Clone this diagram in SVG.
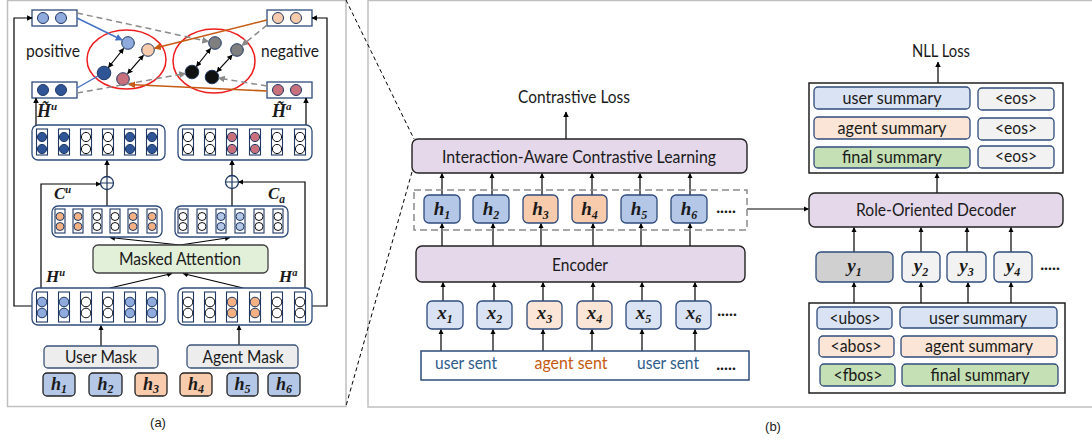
<svg xmlns="http://www.w3.org/2000/svg" width="1092" height="443" viewBox="0 0 1092 443">
<style>
.lbl{font-family:Lato,"Liberation Sans",sans-serif;font-size:16.5px;fill:#1a1a1a}
.math{font-family:"Liberation Serif",serif;font-weight:bold;font-style:italic;fill:#1a1a1a}
.cap{font-family:"Liberation Sans",Arial,sans-serif;font-size:13px;fill:#1a1a1a}
.panel{fill:#fff;stroke:#c0c0c0;stroke-width:1.5}
.grp{fill:#fff;stroke:#2f4b7c;stroke-width:1.3}
.col{fill:#fff;stroke:#1f3864;stroke-width:1.1}
.cw{fill:#fff;stroke:#111;stroke-width:1}
.cdb{fill:#2f5597;stroke:#1f3864;stroke-width:1}
.clb{fill:#8faadc;stroke:#1f3864;stroke-width:1}
.cvl{fill:#b4c7e7;stroke:#1f3864;stroke-width:1}
.cpe{fill:#f4b183;stroke:#1f3864;stroke-width:1}
.cpl{fill:#f8cbad;stroke:#1f3864;stroke-width:1}
.cpk{fill:#c8707c;stroke:#1f3864;stroke-width:1}
.cgy{fill:#7f7f7f;stroke:#1f3864;stroke-width:1}
.cbk{fill:#111;stroke:#1f3864;stroke-width:1}
.ln{stroke:#000;stroke-width:1.2;fill:none}
.arr{stroke:#000;stroke-width:1.2;fill:none;marker-end:url(#ah)}
.hb{fill:#b4c7e7;stroke:#2f4b7c;stroke-width:1.3}
.ho{fill:#f8cbad;stroke:#2f4b7c;stroke-width:1.3}
.ha{fill:#b4c7e7;stroke:#222;stroke-width:1.3}
.hao{fill:#f8cbad;stroke:#222;stroke-width:1.3}
.xb{fill:#dae3f3;stroke:#2f4b7c;stroke-width:1.3}
.xo{fill:#fbe5d6;stroke:#2f4b7c;stroke-width:1.3}
.purp{fill:#e4d8ea;stroke:#222;stroke-width:1.4}
.gr{fill:#f2f2f2;stroke:#2f4b7c;stroke-width:1.3}
.gd{fill:#d0d0d0;stroke:#2f4b7c;stroke-width:1.3}
.gn{fill:#c5e0b4;stroke:#2f4b7c;stroke-width:1.3}
.mask{fill:#ededed;stroke:#3b5378;stroke-width:1.3}
.dash{stroke:#8a8a8a;stroke-width:1.5;stroke-dasharray:6 4;fill:none;marker-end:url(#ahg)}
.ell{fill:none;stroke:#ee1c1c;stroke-width:1.5}
.dbl{stroke:#000;stroke-width:1.2;fill:none;marker-start:url(#ah);marker-end:url(#ah)}
</style>
<defs>
<marker id="ah" viewBox="0 0 10 10" refX="9" refY="5" markerWidth="5.5" markerHeight="5.5" orient="auto-start-reverse" markerUnits="userSpaceOnUse"><path d="M0,0 L10,5 L0,10 z" fill="#000"/></marker>
<marker id="ahg" viewBox="0 0 10 10" refX="9" refY="5" markerWidth="7" markerHeight="7" orient="auto" markerUnits="userSpaceOnUse"><path d="M0,0 L10,5 L0,10 z" fill="#8a8a8a"/></marker>
<marker id="ahb" viewBox="0 0 10 10" refX="9" refY="5" markerWidth="7" markerHeight="7" orient="auto" markerUnits="userSpaceOnUse"><path d="M0,0 L10,5 L0,10 z" fill="#4472c4"/></marker>
<marker id="aho" viewBox="0 0 10 10" refX="9" refY="5" markerWidth="7" markerHeight="7" orient="auto" markerUnits="userSpaceOnUse"><path d="M0,0 L10,5 L0,10 z" fill="#c55a11"/></marker>
</defs>

<rect width="1092" height="443" fill="#fff"/>
<!-- panels -->
<rect class="panel" x="7.5" y="0.5" width="338.5" height="406"/>
<rect class="panel" x="368" y="0.5" width="730" height="406.5"/>
<line x1="346" y1="0" x2="414" y2="139" stroke="#000" stroke-width="1" stroke-dasharray="4 3"/>
<line x1="412" y1="172" x2="346" y2="406" stroke="#000" stroke-width="1" stroke-dasharray="4 3"/>
<text class="cap" x="158" y="427" text-anchor="middle">(a)</text>
<text class="cap" x="773" y="431" text-anchor="middle">(b)</text>

<!-- ========== PANEL A ========== -->
<g id="vec-top-user">
<rect x="32" y="10" width="45" height="16" fill="#fff" stroke="#2f4b7c" stroke-width="1.3"/>
<circle class="clb" cx="43" cy="18" r="5.5"/><circle class="clb" cx="61" cy="18" r="5.5"/>
</g>
<g id="vec-top-agent">
<rect x="267" y="10" width="45" height="16" fill="#fff" stroke="#2f4b7c" stroke-width="1.3"/>
<circle class="cpl" cx="278" cy="18" r="5.5"/><circle class="cpl" cx="296" cy="18" r="5.5"/>
</g>
<g id="vec-bot-user">
<rect x="32" y="82" width="45" height="16" fill="#fff" stroke="#2f4b7c" stroke-width="1.3"/>
<circle class="cdb" cx="43" cy="90" r="5.5"/><circle class="cdb" cx="61" cy="90" r="5.5"/>
</g>
<g id="vec-bot-agent">
<rect x="267" y="82" width="45" height="16" fill="#fff" stroke="#2f4b7c" stroke-width="1.3"/>
<circle class="cpk" cx="278" cy="90" r="5.5"/><circle class="cpk" cx="296" cy="90" r="5.5"/>
</g>
<text class="lbl" x="53" y="57" text-anchor="middle" textLength="54" lengthAdjust="spacingAndGlyphs">positive</text>
<text class="lbl" x="290" y="57" text-anchor="middle" textLength="58" lengthAdjust="spacingAndGlyphs">negative</text>

<g id="contrast-pos">
<ellipse class="ell" cx="126.5" cy="59.5" rx="39.5" ry="29.5"/>
<circle class="clb" cx="128" cy="43" r="6.3"/>
<circle class="cpl" cx="148" cy="50" r="6.3"/>
<circle class="cdb" cx="104" cy="73" r="6.8"/>
<circle class="cpk" cx="123" cy="79" r="6.3"/>
</g>
<g id="contrast-neg">
<ellipse class="ell" cx="214" cy="61" rx="41" ry="32"/>
<circle class="cgy" cx="215" cy="43" r="6.3"/>
<circle class="cgy" cx="237" cy="50" r="6.3"/>
<circle class="cbk" cx="192" cy="72" r="6.8"/>
<circle class="cbk" cx="212" cy="77" r="6.8"/>
</g>

<g id="connectors-a">
<line x1="77" y1="18" x2="122" y2="40" stroke="#4472c4" stroke-width="1.4" marker-end="url(#ahb)"/>
<line class="dash" x1="77" y1="13" x2="208.5" y2="41.5"/>
<line x1="267" y1="20" x2="154.5" y2="48.3" stroke="#c55a11" stroke-width="1.6" marker-end="url(#aho)"/>
<line class="dash" x1="267" y1="25" x2="242" y2="45.5"/>
<line x1="77" y1="88" x2="98" y2="76" stroke="#4472c4" stroke-width="1.4"/>
<line class="dash" x1="77" y1="93" x2="185.5" y2="73.5"/>
<line x1="267" y1="91" x2="129" y2="84.5" stroke="#c55a11" stroke-width="1.6" marker-end="url(#aho)"/>
<line class="dash" x1="267" y1="86" x2="218.5" y2="78"/>
<line class="dbl" x1="108.4" y1="67.5" x2="123.6" y2="48.5"/>
<line class="dbl" x1="127.6" y1="73.7" x2="143.4" y2="55.3"/>
<line class="dbl" x1="196.4" y1="66.5" x2="210.6" y2="48.5"/>
<line class="dbl" x1="216.8" y1="71.9" x2="232.2" y2="55.1"/>
<!-- loops -->
<path class="arr" d="M32,306 H14 V18 H32"/>
<path class="arr" d="M312,306 H327 V18 H312"/>
<line class="arr" x1="36" y1="125" x2="36" y2="98"/>
<line class="arr" x1="306" y1="125" x2="306" y2="98"/>
<!-- residual to plus -->
<path class="arr" d="M41,288 V184 H100.5"/>
<path class="arr" d="M305,288 V182 H238.5"/>
<line class="arr" x1="107" y1="176.5" x2="107" y2="160"/>
<line class="arr" x1="232" y1="175.5" x2="232" y2="160"/>
<line class="ln" x1="107" y1="206" x2="107" y2="189.5"/>
<line class="ln" x1="232" y1="206" x2="232" y2="188.5"/>
<line class="arr" x1="180" y1="245" x2="110" y2="237.5"/>
<line class="arr" x1="180" y1="245" x2="230" y2="237.5"/>
<line class="arr" x1="110" y1="288" x2="172" y2="273.5"/>
<line class="arr" x1="243" y1="288" x2="183" y2="273.5"/>
<line class="arr" x1="101" y1="346" x2="101" y2="325.5"/>
<line class="arr" x1="239" y1="345" x2="239" y2="325.5"/>
</g>

<!-- labels -->
<text class="math" x="37" y="117" font-size="18">H̃<tspan font-size="11" dy="-7">u</tspan></text>
<text class="math" x="272" y="117" font-size="18">H̃<tspan font-size="11" dy="-7">a</tspan></text>
<text class="math" x="54" y="199" font-size="17">C<tspan font-size="10.5" dy="-6">u</tspan></text>
<text class="math" x="268" y="199" font-size="17">C<tspan font-size="11.5" dy="4">a</tspan></text>
<text class="math" x="46" y="282" font-size="17">H<tspan font-size="10.5" dy="-6">u</tspan></text>
<text class="math" x="279" y="282" font-size="17">H<tspan font-size="10.5" dy="-6">a</tspan></text>

<g id="plus-u">
<circle cx="107" cy="183" r="6.5" fill="#fff" stroke="#1f3864" stroke-width="1.3"/>
<path d="M100.5,183 H113.5 M107,176.5 V189.5" stroke="#1f3864" stroke-width="1.2"/>
</g>
<g id="plus-a">
<circle cx="232" cy="182" r="6.5" fill="#fff" stroke="#1f3864" stroke-width="1.3"/>
<path d="M225.5,182 H238.5 M232,175.5 V188.5" stroke="#1f3864" stroke-width="1.2"/>
</g>

<g id="Htilde-u">
<rect class="grp" x="32" y="125" width="133" height="35" rx="6"/>
<rect class="col" x="36.5" y="129" width="11" height="26"/><circle class="cdb" cx="42" cy="137" r="4.6"/><circle class="cdb" cx="42" cy="149" r="4.6"/>
<rect class="col" x="58.5" y="129" width="11" height="26"/><circle class="cdb" cx="64" cy="137" r="4.6"/><circle class="cdb" cx="64" cy="149" r="4.6"/>
<rect class="col" x="80.5" y="129" width="11" height="26"/><circle class="cw" cx="86" cy="137" r="4.6"/><circle class="cw" cx="86" cy="149" r="4.6"/>
<rect class="col" x="102.5" y="129" width="11" height="26"/><circle class="cw" cx="108" cy="137" r="4.6"/><circle class="cw" cx="108" cy="149" r="4.6"/>
<rect class="col" x="124.5" y="129" width="11" height="26"/><circle class="cdb" cx="130" cy="137" r="4.6"/><circle class="cdb" cx="130" cy="149" r="4.6"/>
<rect class="col" x="146.5" y="129" width="11" height="26"/><circle class="cdb" cx="152" cy="137" r="4.6"/><circle class="cdb" cx="152" cy="149" r="4.6"/>
</g>
<g id="Htilde-a">
<rect class="grp" x="178" y="125" width="134" height="35" rx="6"/>
<rect class="col" x="182.5" y="129" width="11" height="26"/><circle class="cw" cx="188" cy="137" r="4.6"/><circle class="cw" cx="188" cy="149" r="4.6"/>
<rect class="col" x="204.5" y="129" width="11" height="26"/><circle class="cw" cx="210" cy="137" r="4.6"/><circle class="cw" cx="210" cy="149" r="4.6"/>
<rect class="col" x="226.5" y="129" width="11" height="26"/><circle class="cpk" cx="232" cy="137" r="4.6"/><circle class="cpk" cx="232" cy="149" r="4.6"/>
<rect class="col" x="249.5" y="129" width="11" height="26"/><circle class="cpk" cx="255" cy="137" r="4.6"/><circle class="cpk" cx="255" cy="149" r="4.6"/>
<rect class="col" x="271.5" y="129" width="11" height="26"/><circle class="cw" cx="277" cy="137" r="4.6"/><circle class="cw" cx="277" cy="149" r="4.6"/>
<rect class="col" x="294.5" y="129" width="11" height="26"/><circle class="cw" cx="300" cy="137" r="4.6"/><circle class="cw" cx="300" cy="149" r="4.6"/>
</g>

<g id="C-u">
<rect class="grp" x="52" y="206" width="110" height="31" rx="6"/>
<rect class="col" x="55" y="209" width="10" height="24"/><circle class="cpe" cx="60" cy="216.5" r="4"/><circle class="cpe" cx="60" cy="226.5" r="4"/>
<rect class="col" x="73" y="209" width="10" height="24"/><circle class="cpe" cx="78" cy="216.5" r="4"/><circle class="cpe" cx="78" cy="226.5" r="4"/>
<rect class="col" x="92" y="209" width="10" height="24"/><circle class="cw" cx="97" cy="216.5" r="4"/><circle class="cw" cx="97" cy="226.5" r="4"/>
<rect class="col" x="110" y="209" width="10" height="24"/><circle class="cw" cx="115" cy="216.5" r="4"/><circle class="cw" cx="115" cy="226.5" r="4"/>
<rect class="col" x="128" y="209" width="10" height="24"/><circle class="cpe" cx="133" cy="216.5" r="4"/><circle class="cpe" cx="133" cy="226.5" r="4"/>
<rect class="col" x="147" y="209" width="10" height="24"/><circle class="cpe" cx="152" cy="216.5" r="4"/><circle class="cpe" cx="152" cy="226.5" r="4"/>
</g>
<g id="C-a">
<rect class="grp" x="175" y="206" width="113" height="31" rx="6"/>
<rect class="col" x="178" y="209" width="10" height="24"/><circle class="cw" cx="183" cy="216.5" r="4"/><circle class="cw" cx="183" cy="226.5" r="4"/>
<rect class="col" x="197" y="209" width="10" height="24"/><circle class="cw" cx="202" cy="216.5" r="4"/><circle class="cw" cx="202" cy="226.5" r="4"/>
<rect class="col" x="216" y="209" width="10" height="24"/><circle class="cvl" cx="221" cy="216.5" r="4"/><circle class="cvl" cx="221" cy="226.5" r="4"/>
<rect class="col" x="235" y="209" width="10" height="24"/><circle class="cvl" cx="240" cy="216.5" r="4"/><circle class="cvl" cx="240" cy="226.5" r="4"/>
<rect class="col" x="254" y="209" width="10" height="24"/><circle class="cw" cx="259" cy="216.5" r="4"/><circle class="cw" cx="259" cy="226.5" r="4"/>
<rect class="col" x="273" y="209" width="10" height="24"/><circle class="cw" cx="278" cy="216.5" r="4"/><circle class="cw" cx="278" cy="226.5" r="4"/>
</g>

<g id="masked-attention">
<rect x="93" y="245" width="175" height="28" rx="5" fill="#e2f0d9" stroke="#404040" stroke-width="1.3"/>
<text class="lbl" x="180" y="264.5" text-anchor="middle" textLength="122" lengthAdjust="spacingAndGlyphs">Masked Attention</text>
</g>

<g id="H-u">
<rect class="grp" x="32" y="288" width="133" height="37" rx="6"/>
<rect class="col" x="36.5" y="292" width="11" height="30"/><circle class="clb" cx="42" cy="302" r="4.8"/><circle class="clb" cx="42" cy="313" r="4.8"/>
<rect class="col" x="58.5" y="292" width="11" height="30"/><circle class="clb" cx="64" cy="302" r="4.8"/><circle class="clb" cx="64" cy="313" r="4.8"/>
<rect class="col" x="80.5" y="292" width="11" height="30"/><circle class="cw" cx="86" cy="302" r="4.8"/><circle class="cw" cx="86" cy="313" r="4.8"/>
<rect class="col" x="102.5" y="292" width="11" height="30"/><circle class="cw" cx="108" cy="302" r="4.8"/><circle class="cw" cx="108" cy="313" r="4.8"/>
<rect class="col" x="124.5" y="292" width="11" height="30"/><circle class="clb" cx="130" cy="302" r="4.8"/><circle class="clb" cx="130" cy="313" r="4.8"/>
<rect class="col" x="146.5" y="292" width="11" height="30"/><circle class="clb" cx="152" cy="302" r="4.8"/><circle class="clb" cx="152" cy="313" r="4.8"/>
</g>
<g id="H-a">
<rect class="grp" x="178" y="288" width="134" height="37" rx="6"/>
<rect class="col" x="182.5" y="292" width="11" height="30"/><circle class="cw" cx="188" cy="302" r="4.8"/><circle class="cw" cx="188" cy="313" r="4.8"/>
<rect class="col" x="204.5" y="292" width="11" height="30"/><circle class="cw" cx="210" cy="302" r="4.8"/><circle class="cw" cx="210" cy="313" r="4.8"/>
<rect class="col" x="226.5" y="292" width="11" height="30"/><circle class="cpe" cx="232" cy="302" r="4.8"/><circle class="cpe" cx="232" cy="313" r="4.8"/>
<rect class="col" x="249.5" y="292" width="11" height="30"/><circle class="cpe" cx="255" cy="302" r="4.8"/><circle class="cpe" cx="255" cy="313" r="4.8"/>
<rect class="col" x="271.5" y="292" width="11" height="30"/><circle class="cw" cx="277" cy="302" r="4.8"/><circle class="cw" cx="277" cy="313" r="4.8"/>
<rect class="col" x="294.5" y="292" width="11" height="30"/><circle class="cw" cx="300" cy="302" r="4.8"/><circle class="cw" cx="300" cy="313" r="4.8"/>
</g>

<g id="user-mask">
<rect class="mask" x="44" y="346" width="114" height="22" rx="4"/>
<text class="lbl" x="101" y="362.5" text-anchor="middle" textLength="72" lengthAdjust="spacingAndGlyphs">User Mask</text>
</g>
<g id="agent-mask">
<rect class="mask" x="187" y="345" width="111" height="23" rx="4"/>
<text class="lbl" x="243" y="362.5" text-anchor="middle" textLength="81" lengthAdjust="spacingAndGlyphs">Agent Mask</text>
</g>

<g id="a-h1"><rect class="ha" x="43" y="373" width="32" height="23" rx="4"/><text class="math" x="59" y="390" font-size="18" text-anchor="middle">h<tspan font-size="12" dy="3">1</tspan></text></g>
<g id="a-h2"><rect class="ha" x="89" y="373" width="33" height="23" rx="4"/><text class="math" x="105.5" y="390" font-size="18" text-anchor="middle">h<tspan font-size="12" dy="3">2</tspan></text></g>
<g id="a-h3"><rect class="hao" x="135" y="373" width="32" height="23" rx="4"/><text class="math" x="151" y="390" font-size="18" text-anchor="middle">h<tspan font-size="12" dy="3">3</tspan></text></g>
<g id="a-h4"><rect class="hao" x="180" y="373" width="32" height="23" rx="4"/><text class="math" x="196" y="390" font-size="18" text-anchor="middle">h<tspan font-size="12" dy="3">4</tspan></text></g>
<g id="a-h5"><rect class="ha" x="227" y="373" width="31" height="23" rx="4"/><text class="math" x="242.5" y="390" font-size="18" text-anchor="middle">h<tspan font-size="12" dy="3">5</tspan></text></g>
<g id="a-h6"><rect class="ha" x="268" y="373" width="32" height="23" rx="4"/><text class="math" x="284" y="390" font-size="18" text-anchor="middle">h<tspan font-size="12" dy="3">6</tspan></text></g>

<!-- ========== PANEL B ========== -->
<g id="connectors-b">
<line class="arr" x1="566" y1="139" x2="566" y2="112"/>
<line class="arr" x1="442" y1="195" x2="442" y2="173.5"/>
<line class="arr" x1="492" y1="195" x2="492" y2="173.5"/>
<line class="arr" x1="542" y1="195" x2="542" y2="173.5"/>
<line class="arr" x1="592" y1="195" x2="592" y2="173.5"/>
<line class="arr" x1="640" y1="195" x2="640" y2="173.5"/>
<line class="arr" x1="690" y1="195" x2="690" y2="173.5"/>
<line class="arr" x1="442" y1="246" x2="442" y2="223.5"/>
<line class="arr" x1="493" y1="246" x2="493" y2="223.5"/>
<line class="arr" x1="541" y1="246" x2="541" y2="223.5"/>
<line class="arr" x1="593" y1="246" x2="593" y2="223.5"/>
<line class="arr" x1="641" y1="246" x2="641" y2="223.5"/>
<line class="arr" x1="690" y1="246" x2="690" y2="223.5"/>
<line class="arr" x1="443" y1="301" x2="443" y2="282.5"/>
<line class="arr" x1="494" y1="301" x2="494" y2="282.5"/>
<line class="arr" x1="543" y1="301" x2="543" y2="282.5"/>
<line class="arr" x1="593" y1="301" x2="593" y2="282.5"/>
<line class="arr" x1="642" y1="301" x2="642" y2="282.5"/>
<line class="arr" x1="695" y1="301" x2="695" y2="282.5"/>
<line class="arr" x1="441" y1="351" x2="441" y2="329.5"/>
<line class="arr" x1="493" y1="351" x2="493" y2="329.5"/>
<line class="arr" x1="543" y1="351" x2="543" y2="329.5"/>
<line class="arr" x1="592" y1="351" x2="592" y2="329.5"/>
<line class="arr" x1="642" y1="351" x2="642" y2="329.5"/>
<line class="arr" x1="695" y1="351" x2="695" y2="329.5"/>
<line class="arr" x1="747" y1="209" x2="808.5" y2="209"/>
<line class="arr" x1="938" y1="83" x2="938" y2="62"/>
<line class="arr" x1="937" y1="193" x2="937" y2="173.5"/>
<line class="arr" x1="854" y1="252" x2="854" y2="227.5"/>
<line class="arr" x1="921" y1="252" x2="921" y2="227.5"/>
<line class="arr" x1="967" y1="252" x2="967" y2="227.5"/>
<line class="arr" x1="1011" y1="252" x2="1011" y2="227.5"/>
<line class="arr" x1="854" y1="303" x2="854" y2="282.5"/>
<line class="arr" x1="921" y1="303" x2="921" y2="282.5"/>
<line class="arr" x1="968" y1="303" x2="968" y2="282.5"/>
<line class="arr" x1="1011" y1="303" x2="1011" y2="282.5"/>
</g>

<text class="lbl" x="574" y="102.5" text-anchor="middle" textLength="112" lengthAdjust="spacingAndGlyphs">Contrastive Loss</text>
<g id="iacl">
<rect class="purp" x="412" y="139" width="335" height="34" rx="6"/>
<text class="lbl" x="579" y="162.5" text-anchor="middle" textLength="274" lengthAdjust="spacingAndGlyphs">Interaction-Aware Contrastive Learning</text>
</g>

<g id="hidden-group">
<rect x="414" y="190" width="333" height="40" fill="none" stroke="#8a8a8a" stroke-width="1.5" stroke-dasharray="7 4"/>
<text class="lbl" x="726" y="213" text-anchor="middle" font-weight="bold">.....</text>
</g>
<g id="b-h1"><rect class="hb" x="424" y="195" width="36" height="28" rx="5"/><text class="math" x="442" y="215" font-size="19" text-anchor="middle">h<tspan font-size="12" dy="4">1</tspan></text></g>
<g id="b-h2"><rect class="hb" x="473" y="195" width="36" height="28" rx="5"/><text class="math" x="491" y="215" font-size="19" text-anchor="middle">h<tspan font-size="12" dy="4">2</tspan></text></g>
<g id="b-h3"><rect class="ho" x="523" y="195" width="35" height="28" rx="5"/><text class="math" x="540.5" y="215" font-size="19" text-anchor="middle">h<tspan font-size="12" dy="4">3</tspan></text></g>
<g id="b-h4"><rect class="ho" x="572" y="195" width="35" height="28" rx="5"/><text class="math" x="589.5" y="215" font-size="19" text-anchor="middle">h<tspan font-size="12" dy="4">4</tspan></text></g>
<g id="b-h5"><rect class="hb" x="621" y="195" width="36" height="28" rx="5"/><text class="math" x="639" y="215" font-size="19" text-anchor="middle">h<tspan font-size="12" dy="4">5</tspan></text></g>
<g id="b-h6"><rect class="hb" x="671" y="195" width="36" height="28" rx="5"/><text class="math" x="689" y="215" font-size="19" text-anchor="middle">h<tspan font-size="12" dy="4">6</tspan></text></g>

<g id="encoder">
<rect class="purp" x="416" y="246" width="329" height="36" rx="6"/>
<text class="lbl" x="580" y="270.5" text-anchor="middle" textLength="56" lengthAdjust="spacingAndGlyphs">Encoder</text>
</g>

<g id="b-x1"><rect class="xb" x="427" y="301" width="36" height="28" rx="5"/><text class="math" x="445" y="319" font-size="19" text-anchor="middle">x<tspan font-size="12" dy="4">1</tspan></text></g>
<g id="b-x2"><rect class="xb" x="477" y="301" width="35" height="28" rx="5"/><text class="math" x="494.5" y="319" font-size="19" text-anchor="middle">x<tspan font-size="12" dy="4">2</tspan></text></g>
<g id="b-x3"><rect class="xo" x="527" y="301" width="35" height="28" rx="5"/><text class="math" x="544.5" y="319" font-size="19" text-anchor="middle">x<tspan font-size="12" dy="4">3</tspan></text></g>
<g id="b-x4"><rect class="xo" x="577" y="301" width="35" height="28" rx="5"/><text class="math" x="594.5" y="319" font-size="19" text-anchor="middle">x<tspan font-size="12" dy="4">4</tspan></text></g>
<g id="b-x5"><rect class="xb" x="626" y="301" width="35" height="28" rx="5"/><text class="math" x="643.5" y="319" font-size="19" text-anchor="middle">x<tspan font-size="12" dy="4">5</tspan></text></g>
<g id="b-x6"><rect class="xb" x="676" y="301" width="35" height="28" rx="5"/><text class="math" x="693.5" y="319" font-size="19" text-anchor="middle">x<tspan font-size="12" dy="4">6</tspan></text></g>
<text class="lbl" x="727" y="316" text-anchor="middle" font-weight="bold">.....</text>

<g id="input-sents">
<rect x="421" y="351" width="328" height="29" fill="#fff" stroke="#2f4b7c" stroke-width="1.5"/>
<text class="lbl" x="466" y="368.5" text-anchor="middle" style="fill:#2e5c8a" textLength="62" lengthAdjust="spacingAndGlyphs">user sent</text>
<text class="lbl" x="571" y="368.5" text-anchor="middle" style="fill:#c55a11" textLength="73" lengthAdjust="spacingAndGlyphs">agent sent</text>
<text class="lbl" x="668" y="368.5" text-anchor="middle" style="fill:#2e5c8a" textLength="62" lengthAdjust="spacingAndGlyphs">user sent</text>
<text class="lbl" x="726" y="370" text-anchor="middle" font-weight="bold">.....</text>
</g>

<text class="lbl" x="941" y="57" text-anchor="middle" textLength="58" lengthAdjust="spacingAndGlyphs">NLL Loss</text>
<g id="output-summaries">
<rect x="809" y="83" width="254" height="90" fill="#fff" stroke="#111" stroke-width="1.4"/>
<rect class="xb" x="814" y="87" width="156" height="22" rx="4"/>
<text class="lbl" x="892" y="104" text-anchor="middle" textLength="99" lengthAdjust="spacingAndGlyphs">user summary</text>
<rect class="gr" x="978" y="88" width="76" height="22" rx="4"/>
<text class="lbl" x="1016" y="104" text-anchor="middle" textLength="42" lengthAdjust="spacingAndGlyphs">&lt;eos&gt;</text>
<rect class="xo" x="814" y="117" width="156" height="22" rx="4"/>
<text class="lbl" x="892" y="134" text-anchor="middle" textLength="109" lengthAdjust="spacingAndGlyphs">agent summary</text>
<rect class="gr" x="978" y="118" width="76" height="22" rx="4"/>
<text class="lbl" x="1016" y="134" text-anchor="middle" textLength="42" lengthAdjust="spacingAndGlyphs">&lt;eos&gt;</text>
<rect class="gn" x="814" y="147" width="156" height="21" rx="4"/>
<text class="lbl" x="892" y="163" text-anchor="middle" textLength="100" lengthAdjust="spacingAndGlyphs">final summary</text>
<rect class="gr" x="978" y="146" width="76" height="22" rx="4"/>
<text class="lbl" x="1016" y="162" text-anchor="middle" textLength="42" lengthAdjust="spacingAndGlyphs">&lt;eos&gt;</text>
</g>

<g id="decoder">
<rect class="purp" x="809" y="193" width="254" height="34" rx="6"/>
<text class="lbl" x="936" y="216" text-anchor="middle" textLength="160" lengthAdjust="spacingAndGlyphs">Role-Oriented Decoder</text>
</g>

<g id="b-y1"><rect class="gd" x="816" y="252" width="77" height="30" rx="5"/><text class="math" x="854.5" y="272" font-size="19" text-anchor="middle">y<tspan font-size="12" dy="4">1</tspan></text></g>
<g id="b-y2"><rect class="gr" x="902" y="252" width="38" height="30" rx="5"/><text class="math" x="921" y="272" font-size="19" text-anchor="middle">y<tspan font-size="12" dy="4">2</tspan></text></g>
<g id="b-y3"><rect class="gr" x="947" y="252" width="39" height="30" rx="5"/><text class="math" x="966.5" y="272" font-size="19" text-anchor="middle">y<tspan font-size="12" dy="4">3</tspan></text></g>
<g id="b-y4"><rect class="gr" x="994" y="252" width="38" height="30" rx="5"/><text class="math" x="1013" y="272" font-size="19" text-anchor="middle">y<tspan font-size="12" dy="4">4</tspan></text></g>
<text class="lbl" x="1050" y="270" text-anchor="middle" font-weight="bold">.....</text>

<g id="decoder-input">
<rect x="809" y="303" width="256" height="90" fill="#fff" stroke="#111" stroke-width="1.4"/>
<rect class="xb" x="817" y="307" width="75" height="22" rx="4"/>
<text class="lbl" x="855" y="323.5" text-anchor="middle" textLength="51" lengthAdjust="spacingAndGlyphs">&lt;ubos&gt;</text>
<rect class="xb" x="900" y="307" width="157" height="21" rx="4"/>
<text class="lbl" x="978" y="323.5" text-anchor="middle" textLength="98" lengthAdjust="spacingAndGlyphs">user summary</text>
<rect class="xo" x="819" y="336" width="75" height="21" rx="4"/>
<text class="lbl" x="856" y="351.5" text-anchor="middle" textLength="51" lengthAdjust="spacingAndGlyphs">&lt;abos&gt;</text>
<rect class="xo" x="901" y="336" width="156" height="21" rx="4"/>
<text class="lbl" x="979" y="351.5" text-anchor="middle" textLength="108" lengthAdjust="spacingAndGlyphs">agent summary</text>
<rect class="gn" x="820" y="364" width="75" height="22" rx="4"/>
<text class="lbl" x="858" y="380.5" text-anchor="middle" textLength="49" lengthAdjust="spacingAndGlyphs">&lt;fbos&gt;</text>
<rect class="gn" x="902" y="364" width="156" height="22" rx="4"/>
<text class="lbl" x="980" y="380.5" text-anchor="middle" textLength="99" lengthAdjust="spacingAndGlyphs">final summary</text>
</g>
</svg>
